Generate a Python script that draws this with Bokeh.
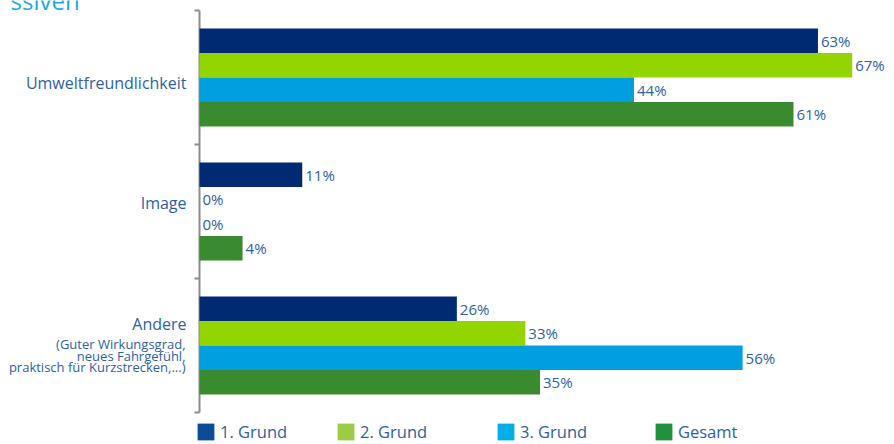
from bokeh.plotting import figure
from bokeh.models import Range1d, Legend, LegendItem
from bokeh.core.properties import value
from bokeh.embed import file_html
from bokeh.resources import INLINE

# ---- data ----
categories = ["Umweltfreundlichkeit", "Image", "Andere"]
series = ["1. Grund", "2. Grund", "3. Grund", "Gesamt"]
grund1 = [63.2, 10.5, 26.3]
grund2 = [66.7, 0.0, 33.3]
grund3 = [44.4, 0.0, 55.5]
gesamt = [60.7, 4.4, 34.8]
andere_note = ["(Guter Wirkungsgrad,", "neues Fahrgefühl,", "praktisch für Kurzstrecken,...)"]
title_fragment = "ssiven"

values_all = [grund1, grund2, grund3, gesamt]
bar_colors = ["#002b73", "#94d500", "#00a0e0", "#3a8a30"]
legend_colors = ["#0a4d96", "#9ccc44", "#00aee8", "#20913f"]
text_color = "#2e5fa3"
axis_color = "#8c8c8c"
FONT = "Open Sans"

# ---- layout (pixels) ----
W, H = 894, 444
axis_px, top_px, cat_px = 199, 10, 134
scale = 685 / 70.0  # px per percent
x_start = -axis_px / scale
x_end = (W - axis_px) / scale
y_start = -0.5 - top_px / cat_px
y_end = (H - top_px) / cat_px - 0.5

p = figure(width=W, height=H,
           x_range=Range1d(x_start, x_end), y_range=Range1d(y_end, y_start),
           output_backend="svg", toolbar_location=None,
           min_border=0)
p.outline_line_color = None
p.axis.visible = False
p.xgrid.visible = False
p.ygrid.visible = False
p.background_fill_color = "white"

n = len(categories)
# category axis line and boundary ticks
p.segment(x0=[0], y0=[-0.5], x1=[0], y1=[n - 0.5], line_color=axis_color, line_width=2)
bounds = [i - 0.5 for i in range(n + 1)]
p.segment(x0=[-5 / scale] * len(bounds), y0=bounds, x1=[0] * len(bounds), y1=bounds,
          line_color=axis_color, line_width=2)

h = 0.183
offsets = [-1.5 * h, -0.5 * h, 0.5 * h, 1.5 * h]

for j, vals in enumerate(values_all):
    ys = [i + offsets[j] for i in range(n)]
    p.hbar(y=ys, left=0, right=vals, height=h, fill_color=bar_colors[j], line_color=None)
    labels = [f"{int(v + 0.5)}%" for v in vals]
    p.text(x=vals, y=ys, text=labels, x_offset=3, text_baseline="middle",
           text_align="left", text_font_size="15px", text_color=text_color,
           text_font=value(FONT))

# category labels
cat_offsets = [5, -9, -22]
for i, c in enumerate(categories):
    p.text(x=[0], y=[i], text=[c], x_offset=-13, y_offset=cat_offsets[i],
           text_align="right", text_baseline="middle",
           text_font_size="16px", text_color=text_color, text_font=value(FONT))
note_offsets = [-2, 10, 21]
for k, line in enumerate(andere_note):
    p.text(x=[0], y=[n - 1], text=[line], x_offset=-14, y_offset=note_offsets[k],
           text_align="right", text_baseline="middle",
           text_font_size="13px", text_color=text_color, text_font=value(FONT))

# title fragment (cut off at the top, as in the source slide)
p.text(x=[x_start + 10 / scale], y=[-0.5], text=[title_fragment], y_offset=-10,
       text_align="left", text_baseline="alphabetic",
       text_font_size="24px", text_color="#1aa9e0", text_font=value(FONT))

# legends
leg_x = [195, 335, 495, 653]
for j, name in enumerate(series):
    r = p.hbar(y=[0], left=[0], right=[0], height=0, fill_color=legend_colors[j],
               line_color=None)
    lg = Legend(items=[LegendItem(label=name, renderers=[r])], location=(leg_x[j], 1),
                orientation="horizontal", glyph_width=21, glyph_height=21,
                label_standoff=4, padding=0, margin=0, spacing=0,
                border_line_color=None, background_fill_alpha=0,
                label_text_font_size="16.5px", label_text_color=text_color,
                label_text_font=FONT, label_height=21)
    p.add_layout(lg)

open("out.html", "w").write(file_html(p, INLINE))
